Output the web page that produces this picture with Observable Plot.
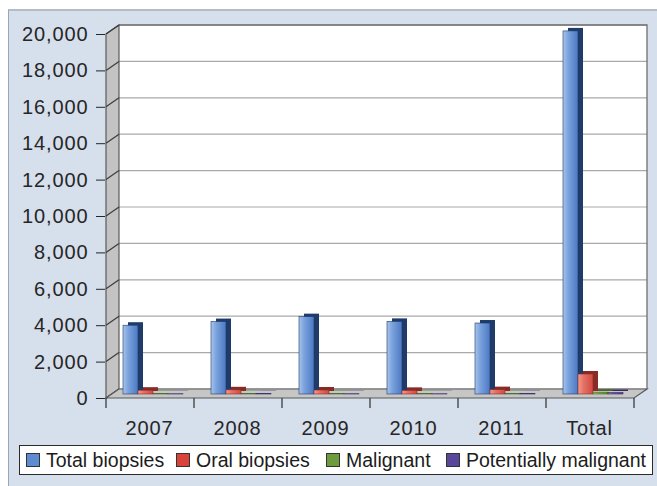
<!DOCTYPE html>
<html>
<head>
<meta charset="utf-8">
<script src="https://cdn.jsdelivr.net/npm/d3@7"></script>
<script src="https://cdn.jsdelivr.net/npm/@observablehq/plot@0.6"></script>
<style>
  body { margin: 0; background: #ffffff; font-family: "Liberation Sans", Arial, sans-serif; }
  #wrap { position: relative; width: 657px; height: 486px; overflow: hidden; }
  #panel { position: absolute; left: 8px; top: 9px; width: 660px; height: 490px; background: #d6dfec;
           border-left: 1px solid #9aa6b8; border-top: 2px solid #b4bcc8; }
  #chart { position: absolute; left: 0; top: 0; }
  #legend { position: absolute; left: 19px; top: 445px; width: 632px; height: 28px; background: #fff;
            border: 1.5px solid #2a2a2a; font-size: 19.5px; color: #1c1c1c; }
  .item { position: absolute; top: 0; height: 28px; display: flex; align-items: center; white-space: nowrap; }
  .sw { width: 12px; height: 12px; border: 1px solid #333; margin-right: 6px; }
</style>
</head>
<body>
<div id="wrap">
  <div id="panel"></div>
  <div id="chart"></div>
  <div id="legend"></div>
</div>
<script>
const categories = ["2007", "2008", "2009", "2010", "2011", "Total"];
const series = ["Total biopsies", "Oral biopsies", "Malignant", "Potentially malignant"];
const totalBiopsies = [3780, 3980, 4250, 3990, 3900, 19950];
const oralBiopsies = [210, 230, 220, 200, 240, 1100];
const malignant = [20, 18, 22, 19, 21, 100];
const potentiallyMalignant = [15, 17, 16, 14, 18, 80];
const yTicks = [0, 2000, 4000, 6000, 8000, 10000, 12000, 14000, 16000, 18000, 20000];

const seriesValues = [totalBiopsies, oralBiopsies, malignant, potentiallyMalignant];
const data = [];
series.forEach((s, si) => categories.forEach((c, ci) => data.push({cat: c, series: s, value: seriesValues[si][ci]})));

const gradIds = ["gBlue", "gRed", "gGreen", "gPurple"];
const gradStops = [
  ["#a8c5ee", "#7aa2dc", "#4c79c2"],
  ["#f39a8e", "#e57367", "#cf4a40"],
  ["#a4c873", "#86ad53", "#5f8a33"],
  ["#9582c8", "#7360ad", "#4f3d8c"]
];
const sideColors = ["#1e3b69", "#8a2a25", "#48662a", "#372863"];
const legendColors = ["#5d8cd2", "#d8443c", "#6f9b3f", "#5a479b"];

const DX = 13, DY = -9;

function backdrop(index, scales, values, dims) {
  const y = scales.y;
  const fx = scales.fx;
  const last = categories[categories.length - 1];
  const x0 = fx(categories[0]), x1 = fx(last) + fx.bandwidth();
  const y0 = y(0), yT = y(20000);
  const g = d3.create("svg:g");
  const defs = g.append("defs");
  gradIds.forEach((id, i) => {
    const lg = defs.append("linearGradient").attr("id", id).attr("x1", 0).attr("x2", 1).attr("y1", 0).attr("y2", 0);
    lg.append("stop").attr("offset", 0).attr("stop-color", gradStops[i][0]);
    lg.append("stop").attr("offset", 0.35).attr("stop-color", gradStops[i][1]);
    lg.append("stop").attr("offset", 1).attr("stop-color", gradStops[i][2]);
  });
  // back wall
  g.append("rect").attr("x", x0 + DX).attr("y", yT + DY).attr("width", x1 - x0).attr("height", y0 - yT).attr("fill", "#ffffff");
  for (const t of yTicks) {
    g.append("line").attr("x1", x0 + DX).attr("x2", x1 + DX).attr("y1", y(t) + DY).attr("y2", y(t) + DY)
      .attr("stroke", "#a9a9a9").attr("stroke-width", 1.2);
  }
  g.append("path").attr("d", `M${x0 + DX},${yT + DY}L${x1 + DX},${yT + DY}L${x1 + DX},${y0 + DY}`)
    .attr("fill", "none").attr("stroke", "#6f6f6f").attr("stroke-width", 1.3);
  // left wall
  g.append("path").attr("d", `M${x0},${yT}L${x0 + DX},${yT + DY}L${x0 + DX},${y0 + DY}L${x0},${y0}Z`)
    .attr("fill", "#c3c3c3").attr("stroke", "#5a5a5a").attr("stroke-width", 1.2);
  for (const t of yTicks) {
    g.append("line").attr("x1", x0).attr("x2", x0 + DX).attr("y1", y(t)).attr("y2", y(t) + DY)
      .attr("stroke", "#3c3c3c").attr("stroke-width", 1.2);
  }
  // floor
  g.append("path").attr("d", `M${x0},${y0}L${x0 + DX},${y0 + DY}L${x1 + DX},${y0 + DY}L${x1},${y0}Z`)
    .attr("fill", "#c6c6c6").attr("stroke", "#5a5a5a").attr("stroke-width", 1.2);
  // category separators
  const edges = categories.map((c) => fx(c));
  edges.push(x1);
  for (const e of edges) {
    g.append("line").attr("x1", e).attr("x2", e).attr("y1", y0).attr("y2", y0 + 10)
      .attr("stroke", "#3c3c3c").attr("stroke-width", 1.3);
  }
  return g.node();
}

const sideMarks = series.map((s, i) =>
  Plot.barY(data.filter((d) => d.series === s), {fx: "cat", x: "series", y: "value", fill: sideColors[i], dx: 5, dy: -7})
);
const frontMarks = series.map((s, i) =>
  Plot.barY(data.filter((d) => d.series === s), {fx: "cat", x: "series", y: "value", fill: `url(#${gradIds[i]})`,
    stroke: sideColors[i], strokeWidth: 0.6, dy: -4})
);

const chart = Plot.plot({
  width: 657,
  height: 440,
  marginLeft: 104,
  marginRight: 24,
  marginTop: 34,
  marginBottom: 42,
  style: {background: "transparent", fontFamily: "Liberation Sans, Arial, sans-serif", fontSize: "20px",
          color: "#262626", letterSpacing: "0.9px"},
  fx: {domain: categories, padding: 0, label: null, axis: "bottom", tickSize: 0, tickPadding: 22},
  x: {domain: series, paddingInner: 0, paddingOuter: 0.756, align: 0.66, axis: null},
  y: {domain: [0, 20000], ticks: yTicks, tickFormat: d3.format(","), tickSize: 9, tickPadding: 8, label: null},
  marks: [
    Plot.ruleY([{cat: categories[0]}], {fx: "cat", y: () => 0, render: backdrop}),
    ...sideMarks,
    ...frontMarks
  ]
});
document.getElementById("chart").appendChild(chart);

const legend = document.getElementById("legend");
const swLeft = [6, 156, 306, 426];
series.forEach((s, i) => {
  const it = document.createElement("div");
  it.className = "item";
  it.style.left = swLeft[i] + "px";
  const sw = document.createElement("div");
  sw.className = "sw";
  sw.style.background = legendColors[i];
  const tx = document.createElement("span");
  tx.textContent = s;
  it.appendChild(sw);
  it.appendChild(tx);
  legend.appendChild(it);
});
</script>
</body>
</html>
